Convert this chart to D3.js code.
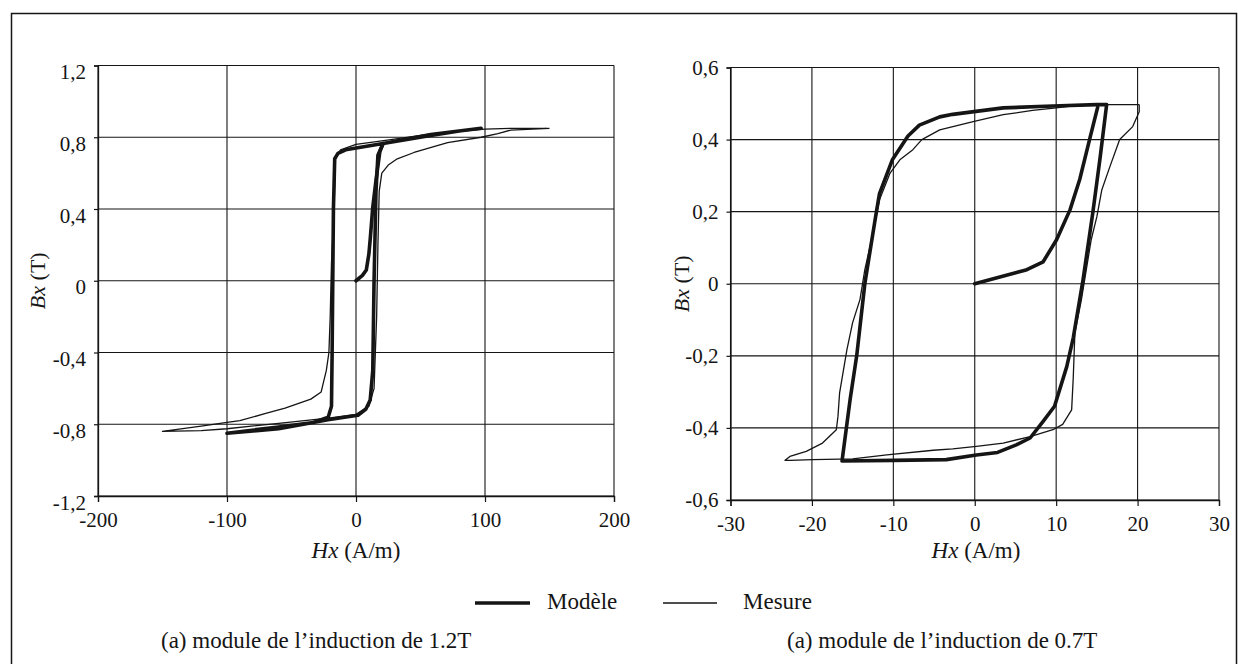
<!DOCTYPE html>
<html>
<head>
<meta charset="utf-8">
<script src="https://cdn.jsdelivr.net/npm/d3@7"></script>
<style>
  html, body { margin: 0; padding: 0; background: #fff; }
  svg text { font-family: "Liberation Serif", "Times New Roman", serif !important; }
</style>
</head>
<body>
<div id="chart"></div>
<script>
// Ticks des deux graphiques
const leftXTicks = [-200, -100, 0, 100, 200];
const leftYTicks = [-1.2, -0.8, -0.4, 0, 0.4, 0.8, 1.2];
const rightXTicks = [-30, -20, -10, 0, 10, 20, 30];
const rightYTicks = [-0.6, -0.4, -0.2, 0, 0.2, 0.4, 0.6];

// Graphique (a) 1.2T : courbes [Hx, Bx]
const leftModeleInit = [[0, 0], [5, 0.03], [8, 0.06], [10, 0.15], [11, 0.23], [13, 0.41], [15.5, 0.56], [18.5, 0.72], [21, 0.765]];
const leftModeleLoop = [[97, 0.85], [80, 0.835], [58, 0.81], [21, 0.765], [-8, 0.73], [-14, 0.71], [-16.5, 0.68], [-17.5, 0.4],
  [-18, 0], [-18.5, -0.4], [-19, -0.7], [-21.5, -0.76], [-33, -0.79], [-60, -0.815], [-100, -0.85],
  [-60, -0.825], [-45, -0.805], [-21.7, -0.775], [1.5, -0.75], [7.7, -0.715], [11, -0.665], [13, -0.5], [14, 0],
  [15.5, 0.5], [17, 0.7], [21, 0.765], [58, 0.815], [97, 0.85]];
const leftMesure = [[148, 0.85], [120, 0.85], [100, 0.845], [60, 0.82], [20, 0.78], [0, 0.76], [-12, 0.73], [-16, 0.68],
  [-17, 0.4], [-19, 0.1], [-20, -0.2], [-21, -0.4], [-23, -0.5], [-25, -0.56], [-27, -0.62], [-35, -0.66], [-45, -0.685],
  [-55, -0.71], [-70, -0.74], [-90, -0.78], [-100, -0.79], [-120, -0.81], [-150, -0.84],
  [-120, -0.835], [-100, -0.825], [-60, -0.795], [-20, -0.765], [0, -0.745], [10, -0.7], [14, -0.6], [16, -0.2],
  [17, 0.2], [18, 0.5], [20, 0.6], [25, 0.645], [32, 0.68], [45, 0.715], [71, 0.77], [97, 0.8], [110, 0.82],
  [120, 0.84], [150, 0.85]];

// Graphique (a) 0.7T : courbes [Hx, Bx]
const rightModeleInit = [[0, 0], [6.4, 0.039], [8.4, 0.061], [10.05, 0.122], [11.7, 0.205], [12.9, 0.29], [14.1, 0.4], [15.1, 0.49]];
const rightModeleLoop = [[16.2, 0.497], [15, 0.497], [9.6, 0.493], [3.5, 0.488], [-2.7, 0.47], [-4.3, 0.463], [-6.8, 0.44],
  [-8.2, 0.41], [-10.1, 0.345], [-11.7, 0.25], [-12.1, 0.197], [-12.9, 0.085], [-13.5, 0], [-14.5, -0.2], [-15.3, -0.32],
  [-16.3, -0.492], [-10, -0.49], [-3.5, -0.488], [0.2, -0.475], [2.8, -0.468], [5.1, -0.447], [6.8, -0.428], [8.4, -0.382],
  [9.8, -0.34], [11.3, -0.23], [12.1, -0.15], [13.3, 0.011], [14.5, 0.197], [15.4, 0.35], [16.2, 0.497]];
const rightMesure = [[20.2, 0.497], [16, 0.497], [12.9, 0.496], [10, 0.488], [7.1, 0.481], [3.5, 0.469], [-0.2, 0.45],
  [-4.3, 0.427], [-6.5, 0.4], [-7.6, 0.372], [-9.2, 0.344], [-10.4, 0.307], [-11.7, 0.233], [-12.5, 0.14], [-13.5, 0.039],
  [-14.1, -0.044], [-15, -0.108], [-15.7, -0.183], [-16.6, -0.303], [-16.8, -0.368], [-17, -0.405], [-18.7, -0.442],
  [-20.7, -0.465], [-22.7, -0.479], [-23.3, -0.49], [-22.7, -0.49], [-19.9, -0.488], [-15, -0.486], [-10.8, -0.475],
  [-5.1, -0.462], [-2.7, -0.458], [0.2, -0.451], [3.5, -0.442], [6.8, -0.424], [9.6, -0.405], [10.8, -0.39], [11.9, -0.35],
  [12.1, -0.26], [12.3, -0.136], [13.1, -0.044], [14.3, 0.122], [15, 0.186], [15.6, 0.26], [16.6, 0.325], [17.8, 0.4],
  [19.4, 0.436], [20.2, 0.477], [20.2, 0.497]];

const W = 1238, H = 664;
const ink = "#151515";
const serif = "'Liberation Serif', 'Times New Roman', serif";

const svg = d3.select("#chart").append("svg")
    .attr("width", W)
    .attr("height", H)
    .attr("font-family", serif);

// Cadre extérieur
svg.append("rect")
    .attr("x", 11.5).attr("y", 13.5)
    .attr("width", 1225).attr("height", 660)
    .attr("fill", "none")
    .attr("stroke", ink)
    .attr("stroke-width", 1.5);

const fmt = v => v === 0 ? "0" : String(v).replace(".", ",");

function drawPanel(opt) {
    const x = d3.scaleLinear().domain(opt.xDomain).range(opt.xRange);
    const y = d3.scaleLinear().domain(opt.yDomain).range(opt.yRange);
    const g = svg.append("g");

    // Grille
    g.selectAll(".gx").data(opt.xTicks).enter().append("line")
        .attr("x1", d => x(d)).attr("x2", d => x(d))
        .attr("y1", opt.yRange[0]).attr("y2", opt.yRange[1])
        .attr("stroke", ink).attr("stroke-width", 1.1);
    g.selectAll(".gy").data(opt.yTicks).enter().append("line")
        .attr("x1", opt.xRange[0]).attr("x2", opt.xRange[1])
        .attr("y1", d => y(d)).attr("y2", d => y(d))
        .attr("stroke", ink).attr("stroke-width", 1.1);

    // Axes
    const ax = g.append("g")
        .attr("transform", `translate(0,${opt.yRange[0]})`)
        .call(d3.axisBottom(x).tickValues(opt.xTicks).tickSize(6).tickPadding(10).tickFormat(fmt));
    const ay = g.append("g")
        .attr("transform", `translate(${opt.xRange[0]},0)`)
        .call(d3.axisLeft(y).tickValues(opt.yTicks).tickSize(4).tickPadding(8).tickFormat(fmt));
    ay.selectAll(".tick text").attr("dy", opt.yLabelDy);
    [ax, ay].forEach(a => {
        a.attr("font-family", serif).attr("font-size", 21);
        a.select(".domain").attr("stroke", ink).attr("stroke-width", 1.3);
        a.selectAll(".tick line").attr("stroke", ink).attr("stroke-width", 1.2);
        a.selectAll(".tick text").attr("fill", ink);
    });

    // Courbes
    const line = d3.line().x(d => x(d[0])).y(d => y(d[1]));
    opt.modele.forEach(s => {
        g.append("path").datum(s)
            .attr("fill", "none").attr("stroke", ink)
            .attr("stroke-width", 3.6)
            .attr("stroke-linejoin", "round").attr("stroke-linecap", "round")
            .attr("d", line);
    });
    g.append("path").datum(opt.mesure)
        .attr("fill", "none").attr("stroke", ink)
        .attr("stroke-width", 1.3)
        .attr("stroke-linejoin", "round")
        .attr("d", line);

    // Titres des axes
    const xt = g.append("text")
        .attr("x", opt.xTitleX)
        .attr("y", 558)
        .attr("text-anchor", "middle")
        .attr("font-size", 23)
        .attr("fill", ink);
    xt.append("tspan").attr("font-style", "italic").text("Hx");
    xt.append("tspan").text(" (A/m)");

    const yc = (opt.yRange[0] + opt.yRange[1]) / 2;
    const yt = g.append("text")
        .attr("transform", `translate(${opt.yTitleX},${yc}) rotate(-90)`)
        .attr("text-anchor", "middle")
        .attr("font-size", 22)
        .attr("fill", ink);
    yt.append("tspan").attr("font-style", "italic").text("Bx");
    yt.append("tspan").text(" (T)");

    // Légende sous le graphique
    g.append("text")
        .attr("x", opt.captionX).attr("y", 648)
        .attr("font-size", 23)
        .attr("fill", ink)
        .text(opt.caption);
}

drawPanel({
    xDomain: [-200, 200], xRange: [98, 614],
    yDomain: [-1.2, 1.2], yRange: [496, 65.5],
    xTicks: leftXTicks, yTicks: leftYTicks, yLabelDy: "0.62em",
    modele: [leftModeleInit, leftModeleLoop], mesure: leftMesure,
    xTitleX: 356, yTitleX: 45, captionX: 161,
    caption: "(a) module de l’induction de 1.2T"
});

drawPanel({
    xDomain: [-30, 30], xRange: [730.5, 1219],
    yDomain: [-0.6, 0.6], yRange: [500, 67.5],
    xTicks: rightXTicks, yTicks: rightYTicks, yLabelDy: "0.32em",
    modele: [rightModeleInit, rightModeleLoop], mesure: rightMesure,
    xTitleX: 976, yTitleX: 689, captionX: 787,
    caption: "(a) module de l’induction de 0.7T"
});

// Légende Modèle / Mesure
const legend = svg.append("g");
legend.append("line")
    .attr("x1", 475).attr("x2", 530).attr("y1", 603).attr("y2", 603)
    .attr("stroke", ink).attr("stroke-width", 3.6);
legend.append("text")
    .attr("x", 547).attr("y", 609)
    .attr("font-size", 23).attr("fill", ink)
    .text("Modèle");
legend.append("line")
    .attr("x1", 663).attr("x2", 717).attr("y1", 603).attr("y2", 603)
    .attr("stroke", ink).attr("stroke-width", 1.3);
legend.append("text")
    .attr("x", 743).attr("y", 609)
    .attr("font-size", 23).attr("fill", ink)
    .text("Mesure");
</script>
</body>
</html>
